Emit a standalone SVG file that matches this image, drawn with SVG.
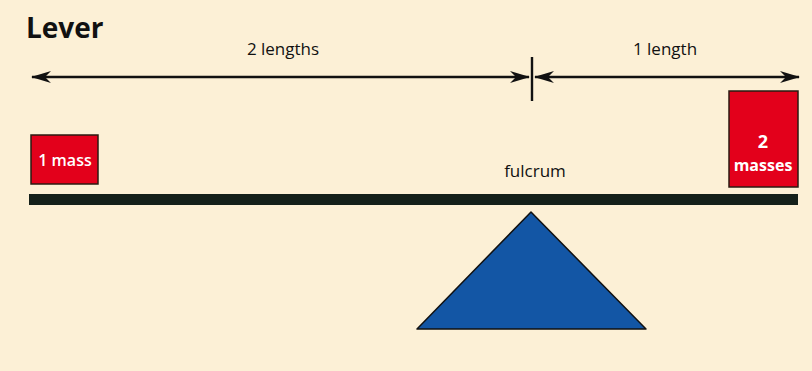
<svg xmlns="http://www.w3.org/2000/svg" width="812" height="371" viewBox="0 0 812 371">
<style>
.lbl{font-family:"Open Sans","Liberation Sans",sans-serif;font-size:17px;fill:#111}
.w{font-family:"Open Sans","Liberation Sans",sans-serif;fill:#fff;text-anchor:middle}
.box{fill:#E3001B;stroke:#2a1a12;stroke-width:1.5}
.ln{stroke:#111;stroke-width:2.4;fill:none}
</style>
<defs>
<marker id="ah" viewBox="0 0 20 12" refX="19" refY="6" markerWidth="20" markerHeight="12" markerUnits="userSpaceOnUse" orient="auto-start-reverse">
<path d="M0,0 L20,6 L0,12 L6,6 Z" fill="#111"/>
</marker>
</defs>
<rect width="812" height="371" fill="#FCF0D6"/>
<text x="26" y="38" font-family="Open Sans,Liberation Sans,sans-serif" font-size="28" font-weight="bold" fill="#111">Lever</text>
<g id="connectors">
<line class="ln" x1="32" y1="77" x2="529" y2="77" marker-start="url(#ah)" marker-end="url(#ah)"/>
<line class="ln" x1="535" y1="77" x2="799" y2="77" marker-start="url(#ah)" marker-end="url(#ah)"/>
<line class="ln" x1="532" y1="57" x2="532" y2="101"/>
<text class="lbl" x="283" y="55" text-anchor="middle">2 lengths</text>
<text class="lbl" x="665" y="55" text-anchor="middle">1 length</text>
</g>
<g id="beam">
<rect x="29" y="194" width="769" height="11" fill="#14201A"/>
</g>
<g id="fulcrum">
<polygon points="531,212 417,329 646,329" fill="#1356A5" stroke="#111" stroke-width="1.5" stroke-linejoin="round"/>
<text class="lbl" x="535" y="177" text-anchor="middle">fulcrum</text>
</g>
<g id="mass1">
<rect class="box" x="31" y="135" width="67" height="49"/>
<text class="w" x="65" y="166" font-size="16" font-weight="600">1 mass</text>
</g>
<g id="mass2">
<rect class="box" x="729" y="91" width="69" height="96"/>
<text class="w" x="763" y="148" font-size="18" font-weight="bold">2</text>
<text class="w" x="763" y="171" font-size="16" font-weight="bold">masses</text>
</g>
</svg>
